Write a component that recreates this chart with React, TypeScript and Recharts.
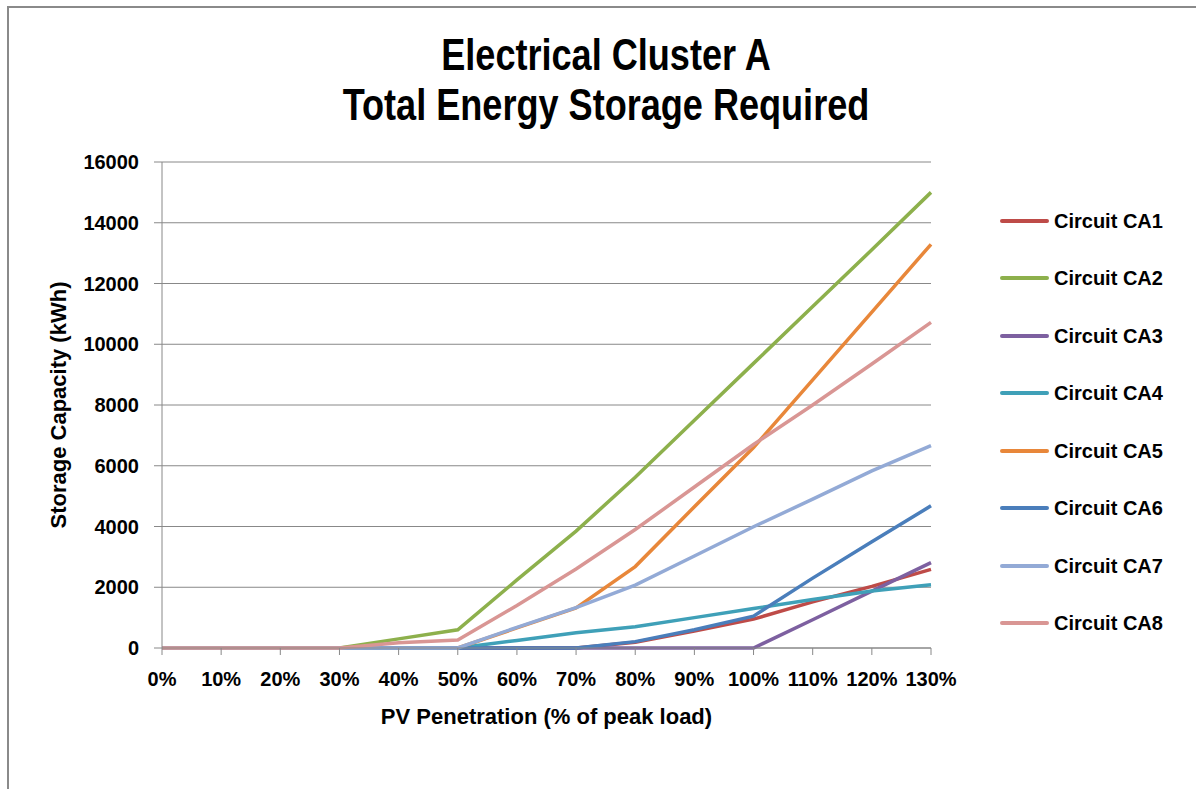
import * as React from "react";
import { LineChart, Line, XAxis, YAxis, CartesianGrid } from "recharts";

const categories = ["0%", "10%", "20%", "30%", "40%", "50%", "60%", "70%", "80%", "90%", "100%", "110%", "120%", "130%"];

const circuitCA1 = [0, 0, 0, 0, 0, 0, 0, 0, 190, 560, 950, 1520, 2030, 2590];
const circuitCA2 = [0, 0, 0, 0, 300, 600, 2240, 3850, 5620, 7500, 9370, 11240, 13110, 15000];
const circuitCA3 = [0, 0, 0, 0, 0, 0, 0, 0, 0, 0, 0, 930, 1870, 2810];
const circuitCA4 = [0, 0, 0, 0, 0, 0, 250, 500, 700, 1000, 1300, 1600, 1880, 2080];
const circuitCA5 = [0, 0, 0, 0, 0, 0, 660, 1320, 2680, 4650, 6600, 8830, 11060, 13290];
const circuitCA6 = [0, 0, 0, 0, 0, 0, 0, 0, 210, 600, 1050, 2300, 3500, 4680];
const circuitCA7 = [0, 0, 0, 0, 0, 0, 680, 1330, 2070, 3030, 3990, 4900, 5830, 6660];
const circuitCA8 = [0, 0, 0, 0, 170, 260, 1400, 2600, 3900, 5300, 6700, 8000, 9350, 10720];

const yTicks = [0, 2000, 4000, 6000, 8000, 10000, 12000, 14000, 16000];

const series = [
  { key: "Circuit CA1", values: circuitCA1, color: "#BE4B48" },
  { key: "Circuit CA2", values: circuitCA2, color: "#8DB04C" },
  { key: "Circuit CA3", values: circuitCA3, color: "#7D60A0" },
  { key: "Circuit CA4", values: circuitCA4, color: "#3FA0B8" },
  { key: "Circuit CA5", values: circuitCA5, color: "#E8873A" },
  { key: "Circuit CA6", values: circuitCA6, color: "#4A7EBB" },
  { key: "Circuit CA7", values: circuitCA7, color: "#93AAD6" },
  { key: "Circuit CA8", values: circuitCA8, color: "#D99694" },
];

const rows = categories.map((c, i) => {
  const row: Record<string, string | number> = { name: c };
  series.forEach((s) => {
    row[s.key] = s.values[i];
  });
  return row;
});

const FONT = "'Liberation Sans', Arial, sans-serif";
const GRID = "#888888";

export default function App() {
  return (
    <div style={{ position: "absolute", left: 0, top: 0, width: 1196, height: 789, background: "#fff", overflow: "hidden" }}>
      {/* outer chart frame, only top and left edges are visible */}
      <div
        style={{
          position: "absolute",
          left: 7,
          top: 6,
          width: 1300,
          height: 900,
          borderLeft: "2px solid #8a8a8a",
          borderTop: "2px solid #8a8a8a",
        }}
      />
      {/* title: Arial bold squeezed to look like a narrow face */}
      <div
        style={{
          position: "absolute",
          left: 0,
          width: 1212,
          top: 30,
          textAlign: "center",
          fontFamily: FONT,
          fontWeight: "bold",
          fontSize: 44,
          lineHeight: "50px",
          color: "#000",
          transform: "scaleX(0.82)",
          transformOrigin: "606px 0",
        }}
      >
        <div>Electrical Cluster A</div>
        <div>Total Energy Storage Required</div>
      </div>

      <div style={{ position: "absolute", left: 0, top: 0 }}>
        <LineChart width={1196} height={789} data={rows} margin={{ top: 162, right: 265, bottom: 41, left: 0 }}>
          <CartesianGrid vertical={false} stroke={GRID} strokeWidth={1} />
          <XAxis
            dataKey="name"
            interval={0}
            tickSize={7}
            tickMargin={17}
            height={100}
            stroke={GRID}
            tick={{ fill: "#000", fontFamily: FONT, fontWeight: "bold", fontSize: 20 }}
            label={{
              value: "PV Penetration (% of peak load)",
              position: "insideBottom",
              offset: 24,
              style: { fill: "#000", fontFamily: FONT, fontWeight: "bold", fontSize: 22 },
            }}
          />
          <YAxis
            domain={[0, 16000]}
            ticks={yTicks}
            interval={0}
            width={162}
            tickSize={8}
            tickMargin={15}
            stroke={GRID}
            tick={{ fill: "#000", fontFamily: FONT, fontWeight: "bold", fontSize: 20 }}
            label={{
              value: "Storage Capacity (kWh)",
              angle: -90,
              position: "insideLeft",
              offset: 58,
              style: { fill: "#000", fontFamily: FONT, fontWeight: "bold", fontSize: 22, textAnchor: "middle" },
            }}
          />
          {series.map((s) => (
            <Line
              key={s.key}
              type="linear"
              dataKey={s.key}
              stroke={s.color}
              strokeWidth={3.5}
              dot={false}
              activeDot={false}
              isAnimationActive={false}
            />
          ))}
        </LineChart>
      </div>

      {/* legend */}
      <div style={{ position: "absolute", left: 1000, top: 192 }}>
        {series.map((s) => (
          <div key={s.key} style={{ display: "flex", alignItems: "center", height: 57.5 }}>
            <div style={{ width: 49, height: 4, borderRadius: 2, background: s.color, marginRight: 5 }} />
            <span style={{ fontFamily: FONT, fontWeight: "bold", fontSize: 20, color: "#000", lineHeight: "24px" }}>
              {s.key}
            </span>
          </div>
        ))}
      </div>
    </div>
  );
}
